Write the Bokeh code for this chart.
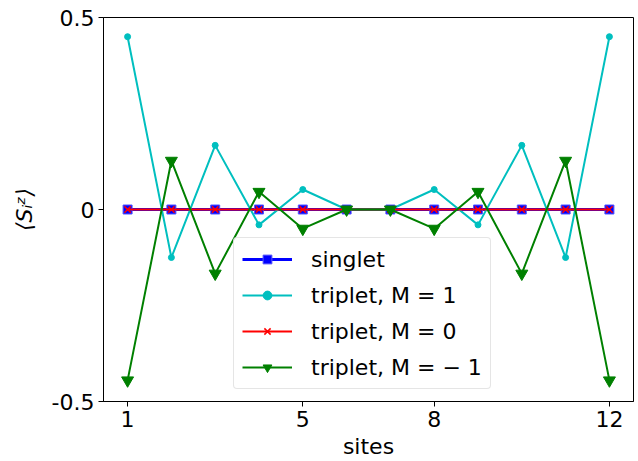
from bokeh.plotting import figure
from bokeh.models import Legend, LegendItem, FixedTicker, Range1d
from bokeh.embed import file_html
from bokeh.resources import INLINE

sites = [1, 2, 3, 4, 5, 6, 7, 8, 9, 10, 11, 12]
singlet = [0, 0, 0, 0, 0, 0, 0, 0, 0, 0, 0, 0]
triplet_p1 = [0.45, -0.125, 0.167, -0.04, 0.052, 0.0, 0.0, 0.052, -0.04, 0.167, -0.125, 0.45]
triplet_0 = [0, 0, 0, 0, 0, 0, 0, 0, 0, 0, 0, 0]
triplet_m1 = [-0.445, 0.127, -0.167, 0.046, -0.05, 0.0, 0.0, -0.05, 0.046, -0.167, 0.127, -0.445]
x_ticks = [1, 5, 8, 12]
y_ticks = [-0.5, 0, 0.5]
y_tick_labels = {-0.5: "-0.5", 0: "0", 0.5: "0.5"}
labels = ["singlet", "triplet, M = 1", "triplet, M = 0", "triplet, M = − 1"]

FONT = "DejaVu Sans"

p = figure(width=638, height=461, output_backend="svg", toolbar_location=None,
           x_range=Range1d(0.45, 12.55), y_range=Range1d(-0.5, 0.5),
           min_border_left=103, min_border_right=5, min_border_top=17, min_border_bottom=59)
p.grid.visible = False
p.outline_line_color = "black"
p.outline_line_width = 1
p.background_fill_color = "white"
p.border_fill_color = "white"

for ax in (p.xaxis, p.yaxis):
    ax.axis_line_color = "black"
    ax.axis_line_width = 1
    ax.major_tick_line_color = "black"
    ax.major_tick_out = 5
    ax.major_tick_in = 0
    ax.minor_tick_line_color = None
    ax.major_label_text_font = FONT
    ax.major_label_text_font_size = "22px"
    ax.major_label_text_color = "black"
    ax.axis_label_text_font = FONT
    ax.axis_label_text_font_size = "22px"
    ax.axis_label_text_color = "black"

p.xaxis.ticker = FixedTicker(ticks=x_ticks)
p.yaxis.ticker = FixedTicker(ticks=y_ticks)
p.yaxis.major_label_overrides = y_tick_labels
p.xaxis.major_label_standoff = 4
p.yaxis.major_label_standoff = 4
p.xaxis.axis_label = "sites"
p.xaxis.axis_label_text_font_style = "normal"
p.xaxis.axis_label_standoff = 4
p.yaxis.axis_label = "⟨Sᵢᶻ⟩"
p.yaxis.axis_label_text_font_style = "italic"
p.yaxis.axis_label_standoff = 12

l1 = p.line(sites, singlet, line_color="#0000ff", line_width=3)
s1 = p.scatter(sites, singlet, marker="square", size=9, fill_color="#0000ff", line_color="#5555ff")
l2 = p.line(sites, triplet_p1, line_color="#00bfbf", line_width=2)
s2 = p.scatter(sites, triplet_p1, marker="circle", size=6, fill_color="#00bfbf", line_color="#00bfbf")
l3 = p.line(sites, triplet_0, line_color="#ff0000", line_width=2)
s3 = p.scatter(sites, triplet_0, marker="x", size=9, line_color="#ff0000", line_width=1.5)
l4 = p.line(sites, triplet_m1, line_color="#008000", line_width=2)
s4 = p.scatter(sites, triplet_m1, marker="inverted_triangle", size=12, fill_color="#008000", line_color="#008000")

legend = Legend(items=[
    LegendItem(label=labels[0], renderers=[l1, s1]),
    LegendItem(label=labels[1], renderers=[l2, s2]),
    LegendItem(label=labels[2], renderers=[l3, s3]),
    LegendItem(label=labels[3], renderers=[l4, s4]),
], location=(130, 12))
legend.label_text_font = FONT
legend.label_text_font_size = "22px"
legend.label_text_color = "black"
legend.glyph_width = 50
legend.glyph_height = 22
legend.label_height = 26
legend.spacing = 10
legend.padding = 8
legend.label_standoff = 19
legend.border_line_color = "#cccccc"
legend.border_line_width = 1
legend.border_radius = 4
legend.background_fill_color = "white"
legend.background_fill_alpha = 0.8
p.add_layout(legend, "center")

open("out.html", "w").write(file_html(p, INLINE))
